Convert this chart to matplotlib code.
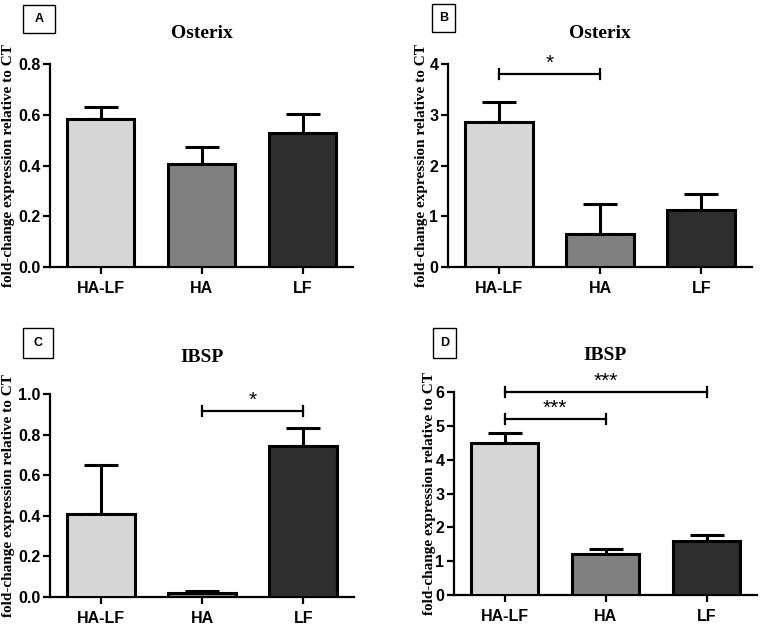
import matplotlib
matplotlib.use("Agg")
import matplotlib.pyplot as plt
from matplotlib.patches import Rectangle

categories = ["HA-LF", "HA", "LF"]
colors = ["#d6d6d6", "#808080", "#2e2e2e"]

A_means = [0.582, 0.405, 0.530]
A_err = [0.047, 0.066, 0.071]
B_means = [2.86, 0.66, 1.13]
B_err = [0.39, 0.58, 0.30]
C_means = [0.407, 0.020, 0.745]
C_err = [0.243, 0.008, 0.089]
D_means = [4.49, 1.21, 1.60]
D_err = [0.30, 0.14, 0.17]

W, H = 760, 629
fig = plt.figure(figsize=(W / 100, H / 100), dpi=100)

def px_rect(x0, x1, ytop, ybot):
    return [x0 / W, 1 - ybot / H, (x1 - x0) / W, (ybot - ytop) / H]

panels = [
    dict(letter="A", title="Osterix", means=A_means, err=A_err, rect=(50, 353, 64, 267),
         ylim=0.8, ticks=[0, 0.2, 0.4, 0.6, 0.8], fmt="{:.1f}", box=(23, 55, 5, 33),
         ylab_x=9, title_y=33, sig=[]),
    dict(letter="B", title="Osterix", means=B_means, err=B_err, rect=(448, 752, 64, 267),
         ylim=4, ticks=[0, 1, 2, 3, 4], fmt="{:d}", box=(432, 455, 4, 32),
         ylab_x=422, title_y=33, sig=[(0, 1, 3.8, "*")]),
    dict(letter="C", title="IBSP", means=C_means, err=C_err, rect=(50, 354, 394, 597),
         ylim=1.0, ticks=[0, 0.2, 0.4, 0.6, 0.8, 1.0], fmt="{:.1f}", box=(23, 53, 328, 358),
         ylab_x=9, title_y=358, sig=[(1, 2, 0.918, "*")]),
    dict(letter="D", title="IBSP", means=D_means, err=D_err, rect=(454, 757, 392, 595),
         ylim=6, ticks=[0, 1, 2, 3, 4, 5, 6], fmt="{:d}", box=(433, 456, 328, 358),
         ylab_x=430, title_y=355, sig=[(0, 2, 6.0, "***"), (0, 1, 5.2, "***")]),
]

x = list(range(len(categories)))
for p in panels:
    x0, x1, yt, yb = p["rect"]
    ax = fig.add_axes(px_rect(x0, x1, yt, yb))
    ax.bar(x, p["means"], width=0.67, color=colors, edgecolor="black", linewidth=2.2, zorder=3)
    ax.errorbar(x, p["means"], yerr=[[0] * 3, p["err"]], fmt="none", ecolor="black",
                elinewidth=2.2, capsize=12, capthick=2.2, zorder=2)
    ax.set_xlim(-0.5, 2.5)
    ax.set_ylim(0, p["ylim"])
    ax.set_yticks(p["ticks"])
    ax.set_yticklabels([p["fmt"].format(t) for t in p["ticks"]])
    ax.set_xticks(x)
    ax.set_xticklabels(categories)
    for s in ["top", "right"]:
        ax.spines[s].set_visible(False)
    for s in ["left", "bottom"]:
        ax.spines[s].set_linewidth(1.6)
    ax.tick_params(axis="both", length=5, width=1.6, pad=2)
    ax.tick_params(axis="x", pad=5)
    for lab in ax.get_xticklabels() + ax.get_yticklabels():
        lab.set_fontfamily("Liberation Sans")
        lab.set_fontweight("bold")
        lab.set_fontsize(11.5)
    # significance bars
    ph = p["ylim"] / 203.0
    for (i, j, yv, star) in p["sig"]:
        ax.plot([i, j], [yv, yv], color="black", lw=1.6, clip_on=False, zorder=4)
        for k in (i, j):
            ax.plot([k, k], [yv - 5 * ph, yv + 5 * ph], color="black", lw=1.6, clip_on=False, zorder=4)
        ax.text((i + j) / 2, yv + 1 * ph, star, ha="center", va="bottom",
                fontfamily="Liberation Sans", fontsize=15, clip_on=False)
    # title
    fig.text(((x0 + x1) / 2) / W, 1 - p["title_y"] / H, p["title"], ha="center", va="center",
             fontfamily="Liberation Serif", fontweight="bold", fontsize=14)
    # y label
    fig.text(p["ylab_x"] / W, 1 - ((yt + yb) / 2) / H, "fold-change expression relative to CT",
             rotation=90, ha="center", va="center", fontfamily="Liberation Serif",
             fontweight="bold", fontsize=11)
    # letter box
    bx0, bx1, by0, by1 = p["box"]
    fig.patches.append(Rectangle((bx0 / W, 1 - by1 / H), (bx1 - bx0) / W, (by1 - by0) / H,
                                 transform=fig.transFigure, fill=False, edgecolor="black",
                                 linewidth=1.0))
    fig.text(((bx0 + bx1) / 2) / W, 1 - ((by0 + by1) / 2) / H, p["letter"], ha="center",
             va="center", fontfamily="Liberation Sans", fontweight="bold", fontsize=9)

fig.savefig("out.png", dpi=100)
